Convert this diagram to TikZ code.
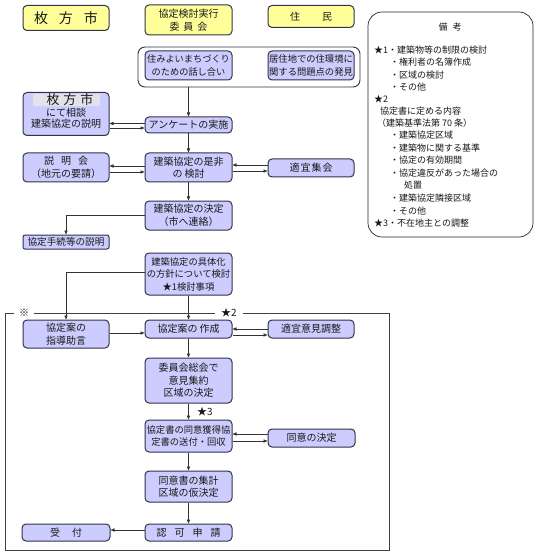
\documentclass[tikz,border=0pt]{standalone}
\usepackage{fontspec}
\setmainfont{Noto Sans CJK JP}
\usetikzlibrary{arrows.meta}
\definecolor{lav}{RGB}{204,204,255}
\definecolor{yel}{RGB}{255,255,153}
\definecolor{bd}{RGB}{50,50,72}
\definecolor{band}{RGB}{226,226,232}
\begin{document}
\begin{tikzpicture}[x=1pt,y=-1pt,
  fbox/.style={draw=bd, fill=lav, line width=1pt, rounded corners=4pt, align=center,
    inner sep=0pt, text=black!90, font=\fontsize{10}{12.5}\selectfont},
  hbox/.style={fbox, fill=yel},
  lbl/.style={inner sep=0pt, text=black!90, font=\fontsize{10}{12}\selectfont},
  note/.style={anchor=west, inner sep=0pt, text=black!90, font=\fontsize{9}{11}\selectfont},
  arr/.style={draw=black!80, line width=0.6pt, -{Triangle[length=4pt,width=3.2pt]}},
  ln/.style={draw=black!80, line width=0.6pt}]
\useasboundingbox (0,0) rectangle (540,553);
\fill[white] (0,0) rectangle (540,553);

% headers
\node[hbox, minimum width=86pt, minimum height=25pt, font=\fontsize{14}{14}\selectfont] (h1) at (66,18) {枚\hspace{11pt}方\hspace{11pt}市};
\node[hbox, minimum width=87pt, minimum height=30pt] (h2) at (188.5,20) {協定検討実行\\委\hspace{4pt}員\hspace{4pt}会};
\node[hbox, minimum width=86pt, minimum height=22pt] (h3) at (311,16.5) {住\hspace{22pt}民};

% group container
\node[draw=bd, fill=white, line width=0.9pt, rounded corners=7pt, minimum width=222pt, minimum height=40pt] (grp) at (249,67) {};
\node[fbox, minimum width=87pt, minimum height=29pt, font=\fontsize{9.2}{12.5}\selectfont] (n1) at (188.5,65.5) {住みよいまちづくり\\のための話し合い};
\node[fbox, minimum width=86pt, minimum height=29pt, font=\fontsize{9.3}{12.5}\selectfont] (n2) at (311,65.5) {居住地での住環境に\\関する問題点の発見};

% left city box
\node[fbox, minimum width=86pt, minimum height=43pt] (L1) at (66,114) {};
\node[lbl, align=center, font=\fontsize{10}{11.5}\selectfont] (L1t) at (66,111) {{\fboxsep=0pt\colorbox{band}{\fontsize{13}{13}\selectfont\hspace{14pt}枚\hspace{4pt}方\hspace{4pt}市\hspace{6pt}}}\\にて相談\\建築協定の説明};

\node[fbox, minimum width=87pt, minimum height=16pt] (m1) at (188.5,125) {アンケートの実施};

\node[fbox, minimum width=86pt, minimum height=29pt] (L2) at (66,167.5) {説\hspace{7pt}明\hspace{7pt}会\\（地元の要請）};
\node[fbox, minimum width=87pt, minimum height=29pt] (m2) at (188.5,167.5) {建築協定の是非\\の\hspace{2pt}検討};
\node[fbox, minimum width=86pt, minimum height=18pt] (R2) at (311,168) {適\hspace{1pt}宜\hspace{1pt}集\hspace{1pt}会};

\node[fbox, minimum width=87pt, minimum height=29pt] (m3) at (188.5,215.5) {建築協定の決定\\（市へ連絡）};
\node[fbox, minimum width=86pt, minimum height=14pt, rounded corners=2pt, font=\fontsize{9.6}{10}\selectfont] (L3) at (66,242) {協定手続等の説明};

\node[fbox, minimum width=87pt, minimum height=42pt, font=\fontsize{9.3}{12.5}\selectfont] (m4) at (188.5,274) {建築協定の具体化\\の方針について検討\\★1検討事項};

% frame
\draw[line width=0.8pt, draw=black!75] (5,313) rectangle (389,550);
\node[lbl, fill=white, inner xsep=5pt, inner ysep=2pt] (kome) at (24,313) {※};
\node[lbl, fill=white, inner xsep=6pt, inner ysep=2pt] (st2) at (229,313) {★2};

\node[fbox, minimum width=86pt, minimum height=28pt] (L4) at (66,334) {協定案の\\指導助言};
\node[fbox, minimum width=87pt, minimum height=18pt] (m5) at (188.5,329) {協定案の\hspace{2pt}作成};
\node[fbox, minimum width=86pt, minimum height=18pt] (R5) at (311,329) {適宜意見調整};

\node[fbox, minimum width=87pt, minimum height=45pt] (m6) at (188.5,380.5) {委員会総会で\\意見集約\\区域の決定};
\node[lbl] (st3) at (205,412) {★3};
\node[fbox, minimum width=87pt, minimum height=32pt, font=\fontsize{9.3}{12.5}\selectfont] (m7) at (188.5,436) {協定書の同意獲得協\\定書の送付・回収};
\node[fbox, minimum width=87pt, minimum height=18pt] (R7) at (311.5,438) {同意の決定};

\node[fbox, minimum width=87pt, minimum height=31pt] (m8) at (188.5,486.5) {同意書の集計\\区域の仮決定};
\node[fbox, minimum width=87pt, minimum height=17pt] (m9) at (188.5,532.5) {認\hspace{8pt}可\hspace{8pt}申\hspace{8pt}請};
\node[fbox, minimum width=88pt, minimum height=17pt] (L9) at (66,532.5) {受\hspace{12pt}付};

% connectors
\draw[arr] (grp.south -| m1.north) -- (m1.north);
\draw[arr] (m1.west |- 0,123.5) -- (L1.east |- 0,123.5);
\draw[arr] (L1.east |- 0,128) -- (m1.west |- 0,128);
\draw[arr] (m1.south) -- (m2.north);
\draw[arr] (m2.west |- 0,166) -- (L2.east |- 0,166);
\draw[arr] (L2.east |- 0,172) -- (m2.west |- 0,172);
\draw[arr] (R2.west |- 0,165) -- (m2.east |- 0,165);
\draw[arr] (m2.east |- 0,171) -- (R2.west |- 0,171);
\draw[arr] (m2.south) -- (m3.north);
\draw[arr] (m3.west) -| (L3.north);
\draw[arr] (m4.west |- 0,272) -| (L4.north);
\draw[arr] (m4.south) -- (m5.north);
\draw[arr] (L4.east |- 0,333) -- (m5.west |- 0,333);
\draw[arr] (R5.west |- 0,329) -- (m5.east |- 0,329);
\draw[arr] (m5.east |- 0,335) -- (R5.west |- 0,335);
\draw[arr] (m5.south) -- (m6.north);
\draw[arr] (m6.south) -- (m7.north);
\draw[arr] (R7.west |- 0,434) -- (m7.east |- 0,434);
\draw[arr] (m7.east |- 0,441) -- (R7.west |- 0,441);
\draw[arr] (m7.south) -- (m8.north);
\draw[arr] (m8.south) -- (m9.north);
\draw[arr] (m9.west |- 0,530) -- (L9.east |- 0,530);

% notes
\draw[line width=0.7pt, draw=black!85, rounded corners=14pt] (368,12) rectangle (533,237);
\node[lbl, font=\fontsize{9}{11}\selectfont] (nt0) at (450,27) {備\hspace{5pt}考};
\node[note] (nt1) at (374,50) {★1・建築物等の制限の検討};
\node[note] (nt2) at (390,62) {・権利者の名簿作成};
\node[note] (nt3) at (390,75) {・区域の検討};
\node[note] (nt4) at (390,87) {・その他};
\node[note] (nt5) at (374,99) {★2};
\node[note] (nt6) at (380,111) {協定書に定める内容};
\node[note] (nt7) at (377,123) {（建築基準法第 70 条）};
\node[note] (nt8) at (390,135) {・建築協定区域};
\node[note] (nt9) at (390,148) {・建築物に関する基準};
\node[note] (nt10) at (390,160) {・協定の有効期間};
\node[note] (nt11) at (390,173) {・協定違反があった場合の};
\node[note] (nt12) at (404,185) {処置};
\node[note] (nt13) at (390,198) {・建築協定隣接区域};
\node[note] (nt14) at (390,211) {・その他};
\node[note] (nt15) at (374,223) {★3・不在地主との調整};
\end{tikzpicture}
\end{document}
